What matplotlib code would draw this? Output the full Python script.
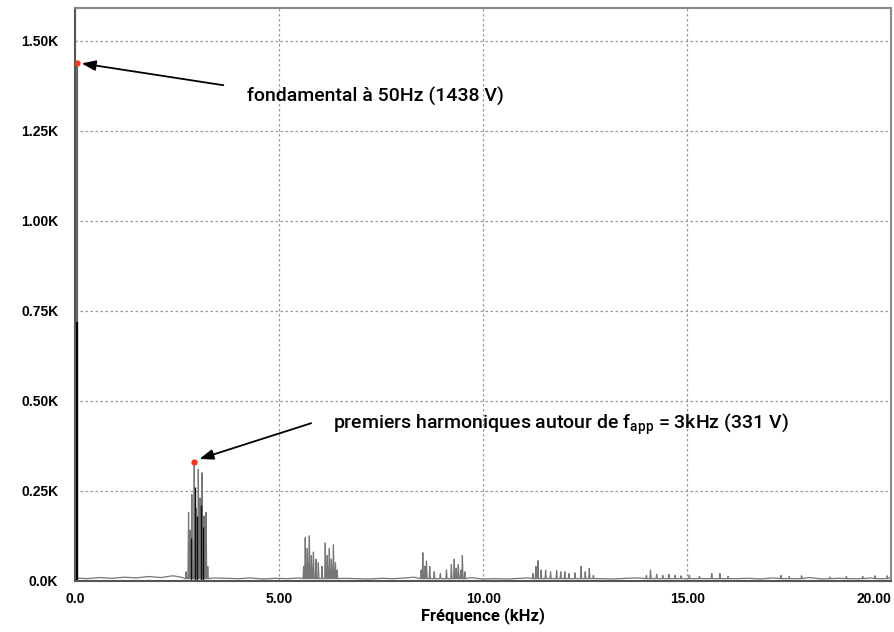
import numpy as np
from matplotlib import pyplot as plt
from matplotlib.ticker import FuncFormatter

# fundamental
f_fund = 0.05   # kHz
a_fund = 1438   # V

# harmonic spikes (kHz, V)
spike_f = [2.72, 2.78, 2.82, 2.86, 2.92, 2.97, 3.02, 3.06, 3.11, 3.16, 3.21, 3.25,
           5.60, 5.64, 5.69, 5.74, 5.79, 5.84, 5.90, 5.96, 6.05, 6.13, 6.18, 6.23, 6.28, 6.33, 6.38, 6.42,
           8.48, 8.52, 8.57, 8.61, 8.69, 8.80, 8.95, 9.10, 9.22, 9.29, 9.34, 9.39, 9.45, 9.49, 9.55,
           11.22, 11.29, 11.34, 11.42, 11.53, 11.65, 11.80, 11.90, 12.00, 12.10, 12.25, 12.40, 12.50, 12.60, 12.70,
           14.00, 14.10, 14.25, 14.40, 14.55, 14.70, 14.85, 15.05, 15.30, 15.60, 15.80, 16.00,
           17.30, 17.50, 17.80, 18.50, 18.90, 19.30, 19.60, 19.90]
spike_a = [25, 190, 140, 240, 331, 200, 310, 230, 300, 180, 190, 40,
           40, 120, 90, 125, 70, 80, 60, 50, 40, 105, 70, 90, 60, 100, 50, 30,
           30, 78, 40, 55, 40, 25, 20, 30, 45, 60, 35, 45, 30, 70, 25,
           20, 40, 56, 30, 30, 25, 28, 25, 25, 20, 22, 40, 25, 35, 15,
           15, 30, 18, 15, 18, 15, 14, 16, 12, 20, 20, 12,
           15, 12, 14, 10, 12, 12, 14, 14]
# dark (black) lines inside the 3 kHz cluster
dark_f = [2.84, 2.94, 2.99, 3.08, 3.14]
dark_a = [120, 260, 180, 210, 150]

# baseline noise (kHz, V)
base_f = [0.0, 0.3, 0.6, 0.9, 1.2, 1.5, 1.8, 2.1, 2.4, 2.6, 3.4, 3.7, 4.0, 4.3, 4.6, 4.9,
          5.2, 5.5, 6.6, 6.9, 7.2, 7.5, 7.8, 8.1, 8.3, 9.7, 10.0, 10.3, 10.6, 10.9, 11.1,
          12.9, 13.2, 13.5, 13.8, 16.2, 16.5, 16.8, 17.1, 17.7, 18.0, 18.3, 18.7, 19.1, 19.5, 20.0]
base_a = [8, 6, 9, 7, 10, 8, 12, 9, 14, 10, 8, 7, 6, 8, 5, 7,
          6, 8, 7, 6, 5, 7, 6, 8, 10, 9, 5, 6, 5, 7, 8,
          6, 5, 7, 8, 6, 7, 5, 8, 6, 9, 5, 7, 6, 8, 10]

plt.rcParams['font.family'] = ['Roboto', 'DejaVu Sans']
plt.rcParams['mathtext.default'] = 'regular'

fig = plt.figure(figsize=(8.94, 6.32), dpi=100)
ax = fig.add_axes([0.084, 0.081, 0.913, 0.906])

# one polyline: baseline + narrow spikes
pts = [(f, a) for f, a in zip(base_f, base_a)]
for f, a in zip(spike_f, spike_a):
    pts += [(f - 0.015, 6), (f, a), (f + 0.015, 6)]
pts.sort()
xs, ys = zip(*pts)
ax.plot(xs, ys, color='#777777', lw=0.9)
ax.vlines(dark_f, 0, dark_a, colors='#111111', lw=1.0)

ax.vlines([f_fund], 0, [a_fund], colors='#666666', lw=1.6)
ax.vlines([f_fund], 0, [720], colors='black', lw=1.6)

ax.plot([f_fund, 2.92], [a_fund, 331], 'o', color='#ff3311', ms=3.5, zorder=5)

ax.annotate('', xy=(f_fund + 0.04, a_fund), xytext=(3.7, 1375),
            arrowprops=dict(arrowstyle='-|>,head_length=0.6,head_width=0.22',
                            color='black', lw=1.3, mutation_scale=14))
ax.text(4.2, 1344, 'fondamental à 50Hz (1438 V)', fontsize=14, fontweight='medium',
        va='center', ha='left')
ax.annotate('', xy=(2.98, 336), xytext=(5.85, 440),
            arrowprops=dict(arrowstyle='-|>,head_length=0.6,head_width=0.22',
                            color='black', lw=1.3, mutation_scale=14))
ax.text(6.32, 433, r'premiers harmoniques autour de f$_{app}$ = 3kHz (331 V)',
        fontsize=14, fontweight='medium', va='center', ha='left')

ax.set_xlim(0, 20)
ax.set_ylim(0, 1590)
ax.set_xticks([0, 5, 10, 15, 20])
ax.set_xticklabels(['0.0', '5.00', '10.00', '15.00', '20.00'])
ax.set_yticks([0, 250, 500, 750, 1000, 1250, 1500])
ax.yaxis.set_major_formatter(FuncFormatter(
    lambda v, p: '0.0K' if v == 0 else '%.2fK' % (v / 1000)))
ax.tick_params(length=0, pad=12, labelsize=10)
for lab in ax.get_xticklabels() + ax.get_yticklabels():
    lab.set_fontweight('bold')
    lab.set_family(['Liberation Sans', 'DejaVu Sans'])
ax.get_xticklabels()[-1].set_horizontalalignment('right')
ax.tick_params(axis='x', pad=8)

ax.grid(True, color='#999999', linestyle=(0, (2, 2)), lw=0.9)
for s in ax.spines.values():
    s.set_color('#888888')
    s.set_linewidth(1.5)
ax.spines['left'].set_color('#555555')
ax.spines['bottom'].set_color('#555555')

ax.set_xlabel('Fréquence (kHz)', fontsize=12, fontweight='bold', labelpad=1)

fig.savefig('out.png', dpi=100)
